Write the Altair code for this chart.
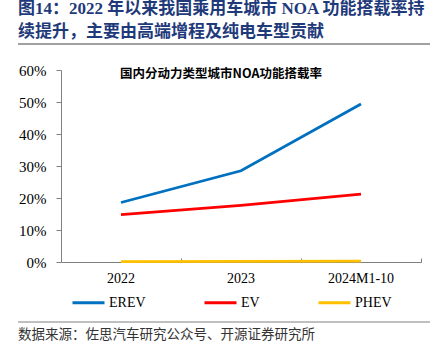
import altair as alt
import pandas as pd

categories = ["2022", "2023", "2024M1-10"]
erev = [18.6, 28.5, 49.4]
ev = [14.8, 17.7, 21.2]
phev = [0.1, 0.2, 0.3]
series_names = ["EREV", "EV", "PHEV"]
series_colors = ["#0070C0", "#FF0000", "#FFC000"]

title_line1 = "图14：2022 年以来我国乘用车城市 NOA 功能搭载率持"
title_line2 = "续提升，主要由高端增程及纯电车型贡献"
inner_title = "国内分动力类型城市NOA功能搭载率"
source_text = "数据来源：佐思汽车研究公众号、开源证券研究所"

rows = []
for name, vals in zip(series_names, [erev, ev, phev]):
    for c, v in zip(categories, vals):
        rows.append({"cat": c, "series": name, "value": v / 100})
df = pd.DataFrame(rows)

W, H = 360, 192
serif = "Liberation Serif"
cjk = "Liberation Serif, Noto Sans CJK SC"

xscale = alt.Scale(type="band", domain=categories, paddingInner=0, paddingOuter=0)
yscale = alt.Scale(domain=[0, 0.6])
yaxis = alt.Axis(title=None, format=".0%", values=[0, 0.1, 0.2, 0.3, 0.4, 0.5, 0.6],
                 grid=False, tickSize=5, tickColor="#808080", domainColor="#808080",
                 labelPadding=10, labelFont=serif, labelFontSize=15, labelColor="#000")

lines = alt.Chart(df).mark_line(strokeWidth=2.8).encode(
    x=alt.X("cat:N", scale=xscale, sort=categories, bandPosition=0.5,
            axis=alt.Axis(title=None, orient="bottom", tickSize=0, labelPadding=9,
                          labelFont=serif, labelFontSize=14, labelColor="#000",
                          labelAngle=0, domainColor="#808080", domainWidth=1,
                          bandPosition=0.5)),
    y=alt.Y("value:Q", scale=yscale, axis=yaxis),
    color=alt.Color("series:N", scale=alt.Scale(domain=series_names, range=series_colors),
                    legend=alt.Legend(orient="none", direction="horizontal", title=None,
                                      legendX=10, legendY=215, symbolType="stroke",
                                      symbolSize=1024, symbolStrokeWidth=3,
                                      labelFont=serif, labelFontSize=14, labelColor="#000",
                                      labelOffset=3, columnPadding=52)),
    order=alt.Order("series:N"),
)

ticks_axis = alt.Chart(df).mark_line(opacity=0).encode(
    x=alt.X("cat:N", scale=xscale, sort=categories,
            axis=alt.Axis(title=None, orient="top", offset=-H, labels=False, domain=False,
                          tickSize=4, tickColor="#808080", bandPosition=1)),
    y=alt.Y("value:Q", scale=yscale, axis=yaxis),
)

def txt(s, x, y, size, color, font, weight="normal", align="left"):
    return alt.Chart(pd.DataFrame({"t": [s]})).mark_text(
        fontSize=size, color=color, font=font, fontWeight=weight, align=align,
        baseline="middle").encode(x=alt.value(x), y=alt.value(y), text="t:N")

t1 = txt(title_line1, -43, -61, 17, "#1F3A7A", cjk, "bold")
t2 = txt(title_line2, -43, -38, 17, "#1F3A7A", cjk, "bold")
t3 = txt(inner_title, 160, 4, 12.5, "#000", "Noto Sans CJK SC", "bold", "center")
t4 = txt(source_text, -43, 265, 13.5, "#333", "Noto Sans CJK SC")

rule1 = alt.Chart(pd.DataFrame({"a": [0]})).mark_rule(color="#808080", strokeWidth=1.5).encode(
    x=alt.value(-43), x2=alt.value(369), y=alt.value(-26))
rule2 = alt.Chart(pd.DataFrame({"a": [0]})).mark_rule(color="#808080", strokeWidth=1).encode(
    x=alt.value(-43), x2=alt.value(369), y=alt.value(252))

chart = alt.layer(ticks_axis, lines, t1, t2, t3, t4, rule1, rule2).resolve_axis(
    x="independent"
).properties(
    width=W, height=H,
    autosize=alt.AutoSizeParams(type="none"),
    padding={"left": 61, "top": 70, "right": 25, "bottom": 93},
    background="white",
).configure_view(stroke=None)

chart.save("out.html", embed_options={"renderer": "svg", "actions": False})
